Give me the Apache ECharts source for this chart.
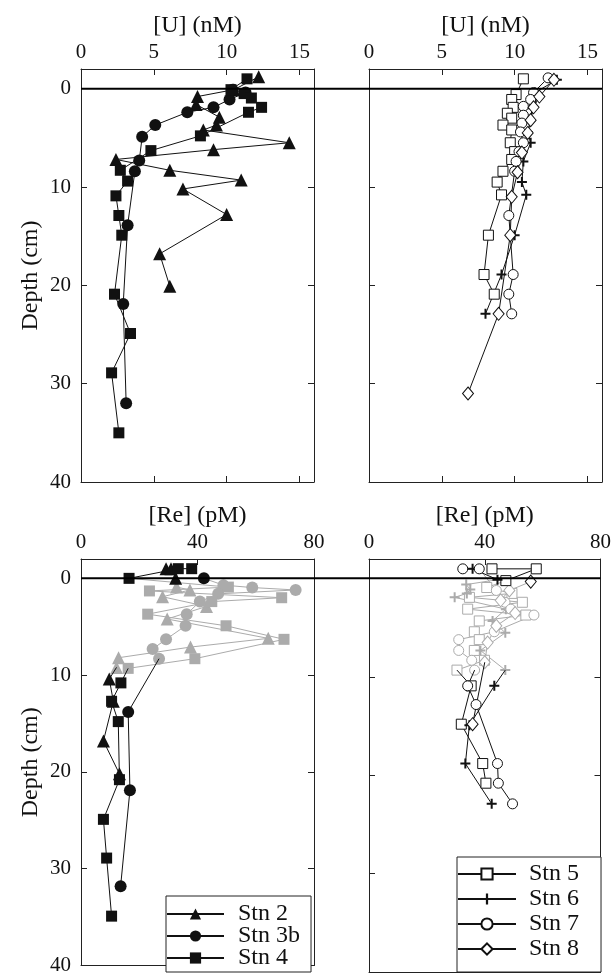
<!DOCTYPE html>
<html>
<head>
<meta charset="utf-8">
<script src="https://cdn.jsdelivr.net/npm/echarts@6/dist/echarts.min.js"></script>
<style>
body { margin: 0; background: #fff; }
#main { width: 614px; height: 976px; }
</style>
</head>
<body>
<div id="main"></div>
<script>
// depth in cm, [U] in nM, [Re] in pM

// ---- [U], stations 2 / 3b / 4 ----
var uStn2Depth = [-1.2, 0.1, 0.8, 1.6, 2.9, 3.7, 4.2, 5.5, 6.2, 7.2, 8.3, 9.3, 10.2, 12.8, 16.8, 20.1];
var uStn2 = [12.2, 10.5, 8.0, 7.9, 9.5, 9.3, 8.4, 14.3, 9.1, 2.4, 6.1, 11.0, 7.0, 10.0, 5.4, 6.1];
var uStn3bDepth = [0.1, 0.4, 1.1, 1.9, 2.4, 3.7, 4.9, 7.3, 8.4, 13.9, 21.9, 32.0];
var uStn3b = [10.4, 11.3, 10.2, 9.1, 7.3, 5.1, 4.2, 4.0, 3.7, 3.2, 2.9, 3.1];
var uStn4Depth = [-1.0, 0.1, 0.5, 0.95, 1.9, 2.4, 4.8, 6.3, 8.3, 9.4, 10.9, 12.9, 14.9, 20.9, 24.9, 28.9, 35.0];
var uStn4 = [11.4, 10.3, 11.2, 11.7, 12.4, 11.5, 8.2, 4.8, 2.7, 3.2, 2.4, 2.6, 2.8, 2.3, 3.4, 2.1, 2.6];

// ---- [U], stations 5 / 6 / 7 / 8 ----
var uStn5Depth = [-1.0, 0.6, 1.1, 1.9, 2.5, 3.0, 3.7, 4.2, 5.5, 6.4, 7.2, 8.4, 9.5, 10.8, 14.9, 18.9, 20.9];
var uStn5 = [10.6, 10.1, 9.8, 9.9, 9.5, 9.8, 9.2, 9.8, 9.7, 10.0, 9.8, 9.2, 8.8, 9.1, 8.2, 7.9, 8.6];
var uStn6Depth = [-0.9, 0.4, 1.1, 2.0, 3.2, 4.4, 5.5, 7.4, 9.5, 10.8, 14.9, 18.9, 22.9];
var uStn6 = [12.9, 11.4, 11.4, 11.2, 11.1, 10.9, 11.1, 10.6, 10.5, 10.8, 10.0, 9.1, 8.0];
var uStn7Depth = [-1.1, 0.4, 1.1, 1.8, 2.7, 3.5, 4.4, 5.5, 6.4, 7.4, 8.4, 12.9, 18.9, 20.9, 22.9];
var uStn7 = [12.3, 11.3, 11.1, 10.6, 10.6, 10.5, 10.4, 10.6, 10.3, 10.1, 10.0, 9.6, 9.9, 9.6, 9.8];
var uStn8Depth = [-0.9, 0.8, 1.9, 3.2, 4.5, 6.5, 8.5, 11.0, 14.9, 22.9, 31.0];
var uStn8 = [12.7, 11.7, 11.3, 11.1, 10.9, 10.5, 10.2, 9.8, 9.7, 8.9, 6.8];

// ---- [Re], stations 2 / 3b / 4 (top = black, mid = grey, deep = black) ----
var reStn2TopDepth = [-1.0, -1.0, 0.0];
var reStn2Top = [29.2, 30.9, 32.5];
var reStn2MidDepth = [0.9, 1.2, 1.9, 2.9, 4.2, 6.2, 7.1, 8.2, 9.2];
var reStn2Mid = [32.8, 37.4, 28.0, 43.1, 29.6, 64.3, 37.6, 12.9, 12.2];
var reStn2DeepDepth = [10.4, 12.7, 16.8, 20.2];
var reStn2Deep = [9.7, 11.1, 7.7, 13.2];

var reStn3bTopDepth = [0.0];
var reStn3bTop = [42.2];
var reStn3bMidDepth = [0.7, 0.95, 1.2, 1.6, 2.4, 3.7, 4.9, 6.3, 7.3, 8.3];
var reStn3bMid = [48.9, 58.8, 73.7, 47.1, 40.8, 36.3, 35.9, 29.2, 24.6, 26.8];
var reStn3bDeepDepth = [13.8, 21.9, 31.8];
var reStn3bDeep = [16.2, 16.8, 13.6];

var reStn4TopDepth = [-1.0, -1.0, 0.0];
var reStn4Top = [38.0, 33.4, 16.5];
var reStn4MidDepth = [0.9, 1.3, 2.0, 2.4, 3.7, 4.9, 6.3, 8.3, 9.3];
var reStn4Mid = [50.6, 23.5, 68.9, 44.9, 22.9, 49.8, 69.7, 39.1, 16.2];
var reStn4DeepDepth = [10.8, 12.7, 14.8, 20.8, 24.9, 28.9, 34.9];
var reStn4Deep = [13.7, 10.5, 12.8, 13.2, 7.7, 8.8, 10.5];

// ---- [Re], stations 5 / 6 / 7 / 8 ----
var reStn5TopDepth = [-1.0, -1.0, 0.2];
var reStn5Top = [42.5, 57.8, 47.3];
var reStn5MidDepth = [0.9, 1.5, 1.9, 2.4, 3.1, 3.7, 4.3, 5.4, 6.2, 7.3, 8.3, 9.3];
var reStn5Mid = [40.7, 49.4, 34.7, 53.0, 34.1, 54.2, 38.1, 36.4, 38.1, 36.4, 39.9, 30.4];
var reStn5DeepDepth = [10.9, 14.8, 18.8, 20.8];
var reStn5Deep = [35.3, 31.9, 39.3, 40.4];

var reStn6TopDepth = [-1.0, 0.1];
var reStn6Top = [35.8, 44.4];
var reStn6MidDepth = [0.6, 1.1, 1.5, 1.9, 3.1, 4.3, 5.5, 7.3, 9.3];
var reStn6Mid = [33.6, 35.0, 33.8, 29.6, 47.3, 42.7, 47.1, 38.5, 47.1];
var reStn6DeepDepth = [10.9, 14.9, 18.8, 22.9];
var reStn6Deep = [43.3, 34.7, 33.3, 42.4];

var reStn7TopDepth = [-1.0, -1.0];
var reStn7Top = [32.4, 38.1];
var reStn7MidDepth = [1.2, 2.4, 3.1, 3.7, 5.4, 6.2, 7.3, 8.3, 9.3];
var reStn7Mid = [44.0, 47.0, 49.0, 57.0, 43.3, 31.0, 31.0, 35.5, 36.5];
var reStn7DeepDepth = [10.9, 12.8, 18.8, 20.8, 22.9];
var reStn7Deep = [34.1, 37.0, 44.4, 44.7, 49.6];

var reStn8TopDepth = [0.3];
var reStn8Top = [55.9];
var reStn8MidDepth = [1.2, 2.2, 3.5, 4.8, 6.5, 8.5];
var reStn8Mid = [48.5, 45.5, 50.5, 44.0, 41.0, 40.0];
var reStn8DeepDepth = [14.8];
var reStn8Deep = [35.8];

var depthTicks = [0, 10, 20, 30, 40];
var uTicks = [0, 5, 10, 15];
var reTicks = [0, 40, 80];

var FONT = 'Liberation Serif';
var INK = '#111';
var GREY = '#ababab';
var PLUS = 'path://M4,0H6V4H10V6H6V10H4V6H0V4H4Z';

function pairs(xs, ds) {
  return xs.map(function (x, i) { return [x, ds[i]]; });
}
// prepend the last point of the previous segment without a marker, so the line stays joined
function joined(prevX, prevD, xs, ds) {
  var out = [{ value: [prevX[prevX.length - 1], prevD[prevD.length - 1]], symbol: 'none' }];
  return out.concat(pairs(xs, ds));
}

function line(name, idx, data, symbol, size, color, hollow) {
  return {
    name: name,
    type: 'line',
    xAxisIndex: idx,
    yAxisIndex: idx,
    data: data,
    symbol: symbol,
    symbolSize: size,
    showAllSymbol: true,
    animation: false,
    z: color === GREY ? 2 : 3,
    lineStyle: { color: color, width: 1 },
    itemStyle: hollow
      ? { color: '#fff', borderColor: color, borderWidth: 1 }
      : { color: color, borderWidth: 0 },
    emphasis: { disabled: true }
  };
}

var grids = [
  { left: 81, top: 69, width: 233, height: 413 },
  { left: 369, top: 69, width: 233, height: 413 },
  { left: 81, top: 559, width: 233, height: 413 },
  { left: 369, top: 559, width: 233, height: 413 }
];

var axisLineStyle = { show: true, onZero: false, lineStyle: { color: '#222', width: 1 } };
var lbl = { fontFamily: FONT, fontSize: 21, color: INK };

var xAxes = [];
var yAxes = [];
for (var g = 0; g < 4; g++) {
  var isU = g < 2;
  var ticks = isU ? uTicks : reTicks;
  xAxes.push({
    type: 'value', gridIndex: g, position: 'top', min: 0, max: isU ? 16 : 80,
    name: isU ? '[U] (nM)' : '[Re] (pM)', nameLocation: 'middle', nameGap: 31,
    nameTextStyle: { fontFamily: FONT, fontSize: 24, color: INK },
    axisLine: axisLineStyle,
    axisTick: { inside: true, length: 6, customValues: ticks, lineStyle: { color: '#222' } },
    axisLabel: Object.assign({ margin: 6, customValues: ticks }, lbl),
    splitLine: { show: false }
  });
  yAxes.push({
    type: 'value', gridIndex: g, position: 'left', inverse: true, min: -2, max: 40,
    name: g % 2 === 0 ? 'Depth (cm)' : '', nameLocation: 'middle', nameGap: 38,
    nameTextStyle: { fontFamily: FONT, fontSize: 24, color: INK },
    axisLine: axisLineStyle,
    axisTick: { inside: true, length: 6, customValues: depthTicks, lineStyle: { color: '#222' } },
    axisLabel: Object.assign({ show: g % 2 === 0, margin: 10, customValues: depthTicks }, lbl),
    splitLine: { show: false }
  });
}
// frame sides: bottom and right axes, ticks only
for (var h = 0; h < 4; h++) {
  var isU2 = h < 2;
  xAxes.push({
    type: 'value', gridIndex: h, position: 'bottom', min: 0, max: isU2 ? 16 : 80,
    axisLine: axisLineStyle,
    axisTick: { inside: true, length: 6, customValues: isU2 ? uTicks : reTicks, lineStyle: { color: '#222' } },
    axisLabel: { show: false }, splitLine: { show: false }
  });
  yAxes.push({
    type: 'value', gridIndex: h, position: 'right', inverse: true, min: -2, max: 40,
    axisLine: axisLineStyle,
    axisTick: { inside: true, length: 6, customValues: depthTicks, lineStyle: { color: '#222' } },
    axisLabel: { show: false }, splitLine: { show: false }
  });
}

var series = [
  // [U] panel, stations 2/3b/4
  line('Stn 2', 0, pairs(uStn2, uStn2Depth), 'triangle', 13, INK),
  line('Stn 3b', 0, pairs(uStn3b, uStn3bDepth), 'circle', 12, INK),
  line('Stn 4', 0, pairs(uStn4, uStn4Depth), 'rect', 11, INK),
  // [U] panel, stations 5-8
  line('Stn 5', 1, pairs(uStn5, uStn5Depth), 'rect', 10, INK, true),
  line('Stn 6', 1, pairs(uStn6, uStn6Depth), PLUS, 10, INK),
  line('Stn 7', 1, pairs(uStn7, uStn7Depth), 'circle', 10, INK, true),
  line('Stn 8', 1, pairs(uStn8, uStn8Depth), 'diamond', [11, 13], INK, true),

  // [Re] panel, stations 2/3b/4
  line('re2a', 2, pairs(reStn2Top, reStn2TopDepth), 'triangle', 13, INK),
  line('re2b', 2, joined(reStn2Top, reStn2TopDepth, reStn2Mid, reStn2MidDepth), 'triangle', 13, GREY),
  line('re2c', 2, joined(reStn2Mid, reStn2MidDepth, reStn2Deep, reStn2DeepDepth), 'triangle', 13, INK),
  line('re3a', 2, pairs(reStn3bTop, reStn3bTopDepth), 'circle', 12, INK),
  line('re3b', 2, joined(reStn3bTop, reStn3bTopDepth, reStn3bMid, reStn3bMidDepth), 'circle', 12, GREY),
  line('re3c', 2, joined(reStn3bMid, reStn3bMidDepth, reStn3bDeep, reStn3bDeepDepth), 'circle', 12, INK),
  line('re4a', 2, pairs(reStn4Top, reStn4TopDepth), 'rect', 11, INK),
  line('re4b', 2, joined(reStn4Top, reStn4TopDepth, reStn4Mid, reStn4MidDepth), 'rect', 11, GREY),
  line('re4c', 2, joined(reStn4Mid, reStn4MidDepth, reStn4Deep, reStn4DeepDepth), 'rect', 11, INK),

  // [Re] panel, stations 5-8
  line('re5a', 3, pairs(reStn5Top, reStn5TopDepth), 'rect', 10, INK, true),
  line('re5b', 3, joined(reStn5Top, reStn5TopDepth, reStn5Mid, reStn5MidDepth), 'rect', 10, GREY, true),
  line('re5c', 3, joined(reStn5Mid, reStn5MidDepth, reStn5Deep, reStn5DeepDepth), 'rect', 10, INK, true),
  line('re6a', 3, pairs(reStn6Top, reStn6TopDepth), PLUS, 10, INK),
  line('re6b', 3, joined(reStn6Top, reStn6TopDepth, reStn6Mid, reStn6MidDepth), PLUS, 10, GREY),
  line('re6c', 3, joined(reStn6Mid, reStn6MidDepth, reStn6Deep, reStn6DeepDepth), PLUS, 10, INK),
  line('re7a', 3, pairs(reStn7Top, reStn7TopDepth), 'circle', 10, INK, true),
  line('re7b', 3, joined(reStn7Top, reStn7TopDepth, reStn7Mid, reStn7MidDepth), 'circle', 10, GREY, true),
  line('re7c', 3, joined(reStn7Mid, reStn7MidDepth, reStn7Deep, reStn7DeepDepth), 'circle', 10, INK, true),
  line('re8a', 3, pairs(reStn8Top, reStn8TopDepth), 'diamond', [11, 13], INK, true),
  line('re8b', 3, joined(reStn8Top, reStn8TopDepth, reStn8Mid, reStn8MidDepth), 'diamond', [11, 13], GREY, true),
  line('re8c', 3, joined(reStn8Mid, reStn8MidDepth, reStn8Deep, reStn8DeepDepth), 'diamond', [11, 13], INK, true)
];

var legendText = { fontFamily: FONT, fontSize: 24, color: INK };

var myChart = echarts.init(document.getElementById('main'), null, { renderer: 'canvas' });
var option = {
  backgroundColor: '#fff',
  animation: false,
  grid: grids,
  xAxis: xAxes,
  yAxis: yAxes,
  legend: [
    {
      data: ['Stn 2', 'Stn 3b', 'Stn 4'],
      orient: 'vertical', left: 166, bottom: 4, height: 120,
      itemWidth: 57, itemHeight: 14, itemGap: -2,
      padding: [6, 11, 2, 0],
      backgroundColor: '#fff', borderColor: '#222', borderWidth: 1, borderRadius: 0,
      selectedMode: false,
      textStyle: Object.assign({ padding: [0, 0, 0, 9] }, legendText)
    },
    {
      data: ['Stn 5', 'Stn 6', 'Stn 7', 'Stn 8'],
      orient: 'vertical', left: 457, bottom: 4, height: 160,
      itemWidth: 58, itemHeight: 14, itemGap: 1,
      padding: [5, 22, 11, 0],
      backgroundColor: '#fff', borderColor: '#222', borderWidth: 1, borderRadius: 0,
      selectedMode: false,
      textStyle: Object.assign({ padding: [0, 0, 0, 8] }, legendText)
    }
  ],
  series: series
};
myChart.setOption(option);

// depth = 0 reference line spanning both panels of each row
var rowLines = [];
[[0, 1, 0], [2, 3, 2]].forEach(function (r) {
  var y = myChart.convertToPixel({ yAxisIndex: r[2] }, 0);
  var xl = myChart.convertToPixel({ xAxisIndex: r[0] }, 0);
  var xr = myChart.convertToPixel({ xAxisIndex: r[1] }, r[1] < 2 ? 16 : 80);
  rowLines.push({
    type: 'line', z: 10,
    shape: { x1: xl, y1: y, x2: xr, y2: y },
    style: { stroke: '#000', lineWidth: 2 }
  });
});
myChart.setOption({ graphic: rowLines });
</script>
</body>
</html>
